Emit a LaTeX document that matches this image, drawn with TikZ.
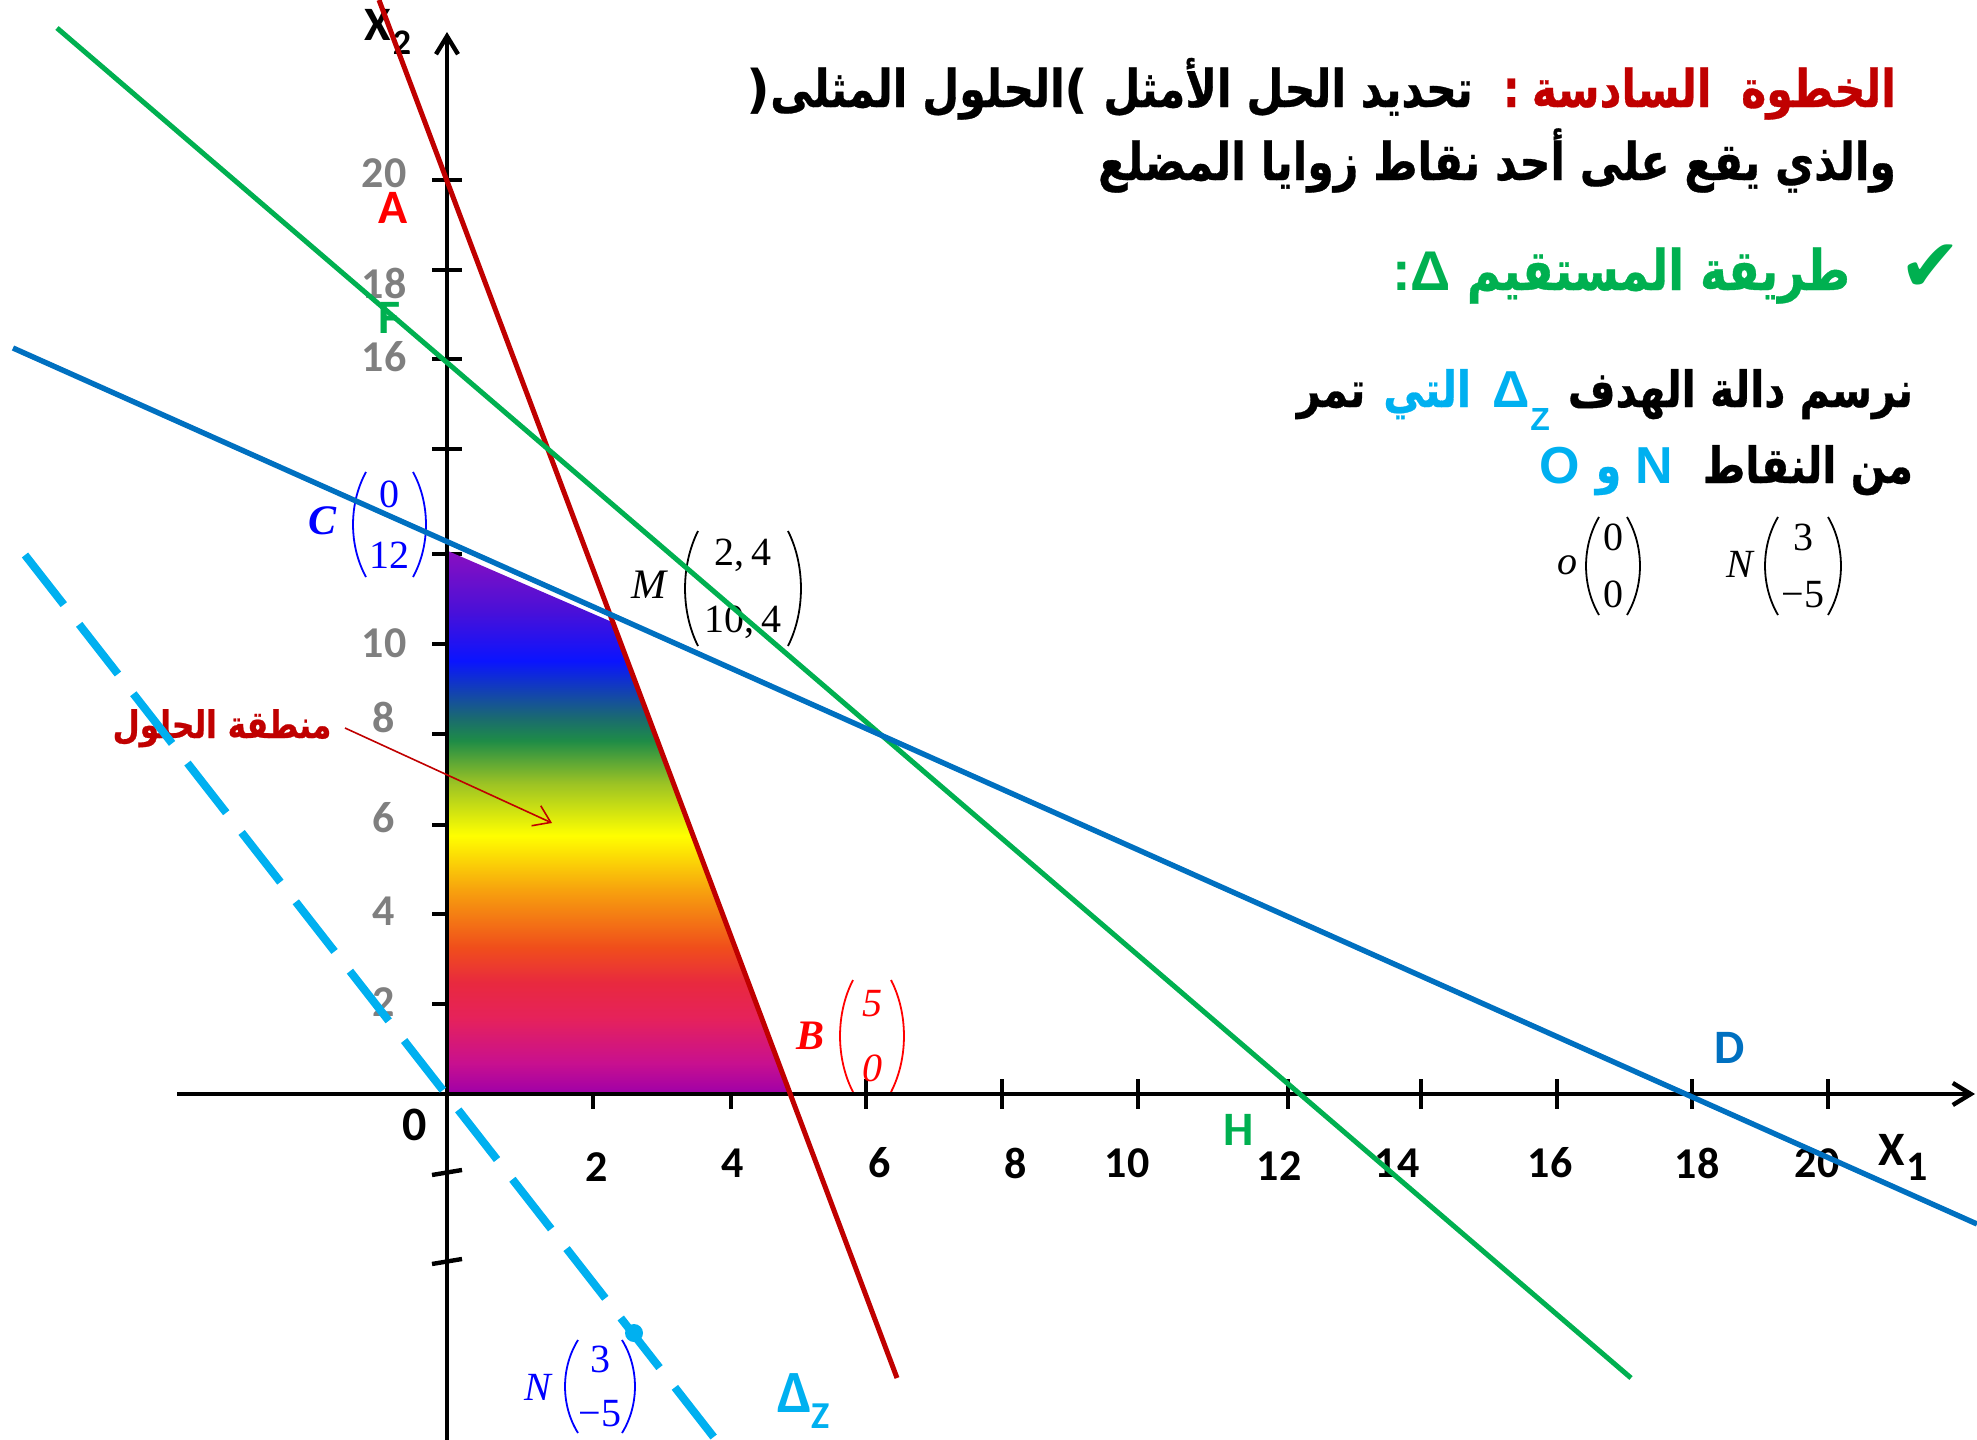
\documentclass[tikz,border=0pt]{standalone}
\usepackage{fontspec}
\usetikzlibrary{arrows.meta}
\TeXXeTstate=1
\newfontfamily\arabfont[Script=Arabic,FakeStretch=0.82,BoldFeatures={FakeBold=0.6}]{DejaVu Sans}
\newfontfamily\carl{Carlito}
\newfontfamily\tms{Liberation Serif}
\newfontfamily\lsans{Liberation Sans}
\newfontfamily\djv{DejaVu Sans}
\newcommand\fsz[1]{\fontsize{#1}{#1}\selectfont}
\definecolor{dred}{HTML}{C00000}
\definecolor{bred}{HTML}{FF0000}
\definecolor{gr}{HTML}{00B050}
\definecolor{bl}{HTML}{0070C0}
\definecolor{cy}{HTML}{00B0F0}
\definecolor{gy}{HTML}{7F7F7F}
\definecolor{pblue}{HTML}{0000FF}
\definecolor{s1}{HTML}{A000A8}
\definecolor{s2}{HTML}{C8108F}
\definecolor{s3}{HTML}{E6225A}
\definecolor{s4}{HTML}{E8293F}
\definecolor{s5}{HTML}{F04E1B}
\definecolor{s6}{HTML}{F7A10E}
\definecolor{s7}{HTML}{FFFF00}
\definecolor{s8}{HTML}{9CC324}
\definecolor{s9}{HTML}{1E8C47}
\definecolor{s10}{HTML}{1A6A70}
\definecolor{s11}{HTML}{0A14FF}
\definecolor{s12}{HTML}{4A10D8}
\definecolor{s13}{HTML}{8A0FC0}
\pgfdeclareverticalshading{rainbowfill}{100bp}{color(0bp)=(s1); color(25bp)=(s1); color(27.76bp)=(s2); color(32bp)=(s3); color(35.13bp)=(s4); color(38.44bp)=(s5); color(43.69bp)=(s6); color(48.76bp)=(s7); color(53.55bp)=(s8); color(57.5bp)=(s9); color(59.6bp)=(s10); color(64.87bp)=(s11); color(69.47bp)=(s12); color(75bp)=(s13); color(100bp)=(s13)}
\tikzset{
  every node/.style={inner sep=0pt, outer sep=0pt},
  axisline/.style={line width=2.2pt, -{Straight Barb[length=9pt,width=11pt]}},
  tickline/.style={line width=2.2pt},
  ylab/.style={text=gy, font=\carl\bfseries\fsz{22}},
  xlab/.style={font=\carl\bfseries\fsz{22}},
  ptlab/.style={font=\carl\bfseries\fsz{24}},
  plotline/.style={line width=2.5pt},
  vecent/.style={font=\tms\fsz{20}},
  brk/.style={line width=0.9pt},
  artext/.style={anchor=base east},
}
% #1 name, #2 cx, #3 ytop, #4 ybot, #5 outer half width, #6 top entry, #7 bottom entry, #8 colour
\newcommand\pvec[8]{%
  \node[vecent,text=#8] (#1top) at ({#2},{#3+(#4-#3)*0.21}) {#6};
  \node[vecent,text=#8] (#1bot) at ({#2},{#4-(#4-#3)*0.21}) {#7};
  \draw[brk,#8] ({#2-#5+13},#3) .. controls ({#2-#5-4.3},{#3+(#4-#3)*0.3}) and ({#2-#5-4.3},{#4-(#4-#3)*0.3}) .. ({#2-#5+13},#4);
  \draw[brk,#8] ({#2+#5-13},#3) .. controls ({#2+#5+4.3},{#3+(#4-#3)*0.3}) and ({#2+#5+4.3},{#4-(#4-#3)*0.3}) .. ({#2+#5-13},#4);
}
\begin{document}
\begin{tikzpicture}[x=0.5pt,y=-0.5pt]
\useasboundingbox (0,0) rectangle (1977,1440);
% named points
\coordinate (O) at (447,1094);
\coordinate (xs) at (177,1094);
\coordinate (xe) at (1975,1094);
\coordinate (ys) at (447,1440);
\coordinate (ye) at (447,32);
\coordinate (rA) at (379,0);
\coordinate (rB) at (897,1378);
\coordinate (gA) at (57,28);
\coordinate (gB) at (1631,1378);
\coordinate (bA) at (13,348);
\coordinate (bB) at (1977,1224);
\coordinate (cA) at (25,555);
\coordinate (cB) at (716,1440);
\coordinate (Ndot) at (634,1333);
\coordinate (arS) at (345,728);
\coordinate (arE) at (552,823);
% ticks
\foreach \yy in {180,270,359,449,554,644,734,825,914,1004}
  \draw[tickline] (432,\yy) -- (462,\yy);
\draw[tickline] (432,1175) -- (462,1170);
\draw[tickline] (432,1264) -- (462,1259);
\foreach \xx in {593,731,866,1002,1138,1288,1421,1557,1692,1828}
  \draw[tickline] (\xx,1079) -- (\xx,1109);
% solution region
\shade[shading=rainbowfill] (448,1093) -- (448,551) -- (612,622) -- (790,1093) -- cycle;
% axis labels
\foreach \yy/\lab in {173/20,283/18,357/16,643/10,717/8,818/6,911/4,1002/2}
  \node[ylab] (yl\lab) at (384,\yy) {\lab};
\foreach \xx/\yy/\lab in {597/1167/2,733/1163/4,880/1163/6,1016/1163/8,1127/1163/10,1279/1166/12,1397/1163/14,1550/1163/16,1697/1163/18,1817/1163/20}
  \node[xlab] (xl\lab) at (\xx,\yy) {\lab};
\node[font=\carl\bfseries\fsz{24}] (zero) at (415,1125) {0};
\node[font=\carl\bfseries\fsz{24}] (x2) at (378,25) {X};
\node[font=\carl\bfseries\fsz{18}] (x2s) at (402,43) {2};
\node[font=\carl\bfseries\fsz{24}] (x1) at (1892,1150) {X};
\node[font=\carl\bfseries\fsz{21}] (x1s) at (1917,1167) {1};
\node[ptlab,text=bred] (A) at (393,208) {A};
\node[ptlab,text=gr] (F) at (390,318) {F};
\node[ptlab,text=gr] (H) at (1239,1130) {H};
\node[ptlab,text=bl] (D) at (1730,1048) {D};
% vectors
\node[font=\tms\bfseries\itshape\fsz{21},text=pblue] (Clab) at (323,521) {C};
\pvec{C}{389.5}{472}{577}{36.5}{0}{12}{pblue}
\node[font=\tms\itshape\fsz{21}] (Mlab) at (649,585) {M};
\pvec{M}{743}{531}{646}{58}{2,\,4}{10,\,4}{black}
\node[font=\tms\bfseries\itshape\fsz{21},text=bred] (Blab) at (810,1036) {B};
\pvec{B}{872}{980}{1092}{32}{\itshape 5}{\itshape 0}{bred}
\node[font=\tms\itshape\fsz{20}] (olab) at (1567,565) {o};
\pvec{O}{1613}{517}{615}{27}{0}{0}{black}
\node[font=\tms\itshape\fsz{20}] (Nlab) at (1740,564) {N};
\pvec{N}{1803}{517}{615}{38}{3}{−5}{black}
\node[font=\tms\itshape\fsz{20},text=pblue] (Nlab2) at (538,1387) {N};
\pvec{Nb}{600}{1340}{1433}{35}{3}{−5}{pblue}
% heading lines
\node[artext,font=\arabfont\bfseries\fsz{26},text=dred] (L1a) at (1896,107)
  {\beginR الخطوة\ \ السادسة\endR};
\node[artext,font=\arabfont\bfseries\fsz{26},text=dred] (L1b) at ([xshift=-6pt]L1a.base west) {:};
\node[artext,font=\arabfont\bfseries\fsz{26}] (L1c) at ([xshift=-15pt]L1b.base west)
  {\beginR تحديد الحل الأمثل\ \hbox{\djv\bfseries(}الحلول المثلى\hbox{\djv\bfseries)}\endR};
\node[artext,font=\arabfont\bfseries\fsz{26}] (L2) at (1896,180)
  {\beginR والذي يقع على أحد نقاط زوايا المضلع\endR};
\node[artext,font=\arabfont\bfseries\fsz{28},text=gr] (L3) at (1850,290)
  {\beginR طريقة المستقيم \hbox{\lsans Δ}\hbox{\lsans :}\endR};
\node[font=\djv\fsz{37},text=gr] (chk) at (1930,268) {✔};
\node[artext,font=\arabfont\bfseries\fsz{25}] (L4a) at (1913,407)
  {\beginR نرسم دالة الهدف\endR};
\node[artext,font=\lsans\bfseries\fsz{26},text=cy] (L4b) at ([xshift=-9pt]L4a.base west)
  {Δ\raisebox{-11.5pt}{\fsz{16}Z}};
\node[artext,font=\arabfont\bfseries\fsz{25},text=cy] (L4c) at ([xshift=-11pt]L4b.base west)
  {\beginR التي\endR};
\node[artext,font=\arabfont\bfseries\fsz{25}] (L4d) at ([xshift=-9pt]L4c.base west)
  {\beginR تمر\endR};
\node[artext,font=\arabfont\bfseries\fsz{25}] (L5a) at (1913,483)
  {\beginR من النقاط\endR};
\node[artext,font=\lsans\bfseries\fsz{26},text=cy] (L5b) at ([xshift=-15pt]L5a.base west) {N};
\node[artext,font=\arabfont\bfseries\fsz{25},text=cy] (L5c) at ([xshift=-7pt]L5b.base west) {و};
\node[artext,font=\lsans\bfseries\fsz{26},text=cy] (L5d) at ([xshift=-8pt]L5c.base west) {O};
\node[font=\arabfont\bfseries\fsz{19},text=dred,anchor=base] (sol) at (222,738) {\beginR منطقة الحلول\endR};
\node[font=\carl\bfseries\fsz{30},text=cy,anchor=base west] (dz) at (777,1412) {Δ\raisebox{-8pt}{\fsz{19}Z}};
% axes
\draw[axisline] (xs) -- (xe);
\draw[axisline] (ys) -- (ye);
% constraint lines
\draw[plotline,dred] (rA) -- (rB);
\draw[plotline,gr] (gA) -- (gB);
\draw[plotline,line width=2.7pt,bl] (bA) -- (bB);
% objective line
\draw[cy,line width=4pt,dash pattern=on 31.5pt off 12.5pt] (cA) -- (cB);
\fill[cy] (Ndot) circle[radius=4.5pt];
% arrow to region
\draw[dred,line width=0.8pt,-{Straight Barb[length=8pt,width=11pt]}] (arS) -- (arE);
\end{tikzpicture}
\end{document}
